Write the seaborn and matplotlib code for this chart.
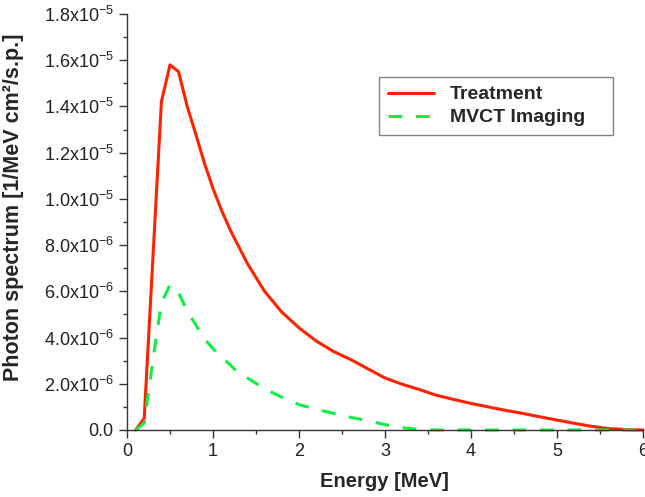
import numpy as np
import pandas as pd
import seaborn as sns
import matplotlib
matplotlib.use('Agg')
import matplotlib.pyplot as plt
from matplotlib.ticker import MultipleLocator, FuncFormatter

# Energías y espectros (unidades de 1e-6)
energia_trat = [0.1, 0.2, 0.4, 0.5, 0.6, 0.7, 0.8, 0.9, 1.0, 1.1, 1.2, 1.4, 1.6,
                1.8, 2.0, 2.2, 2.4, 2.6, 2.8, 3.0, 3.2, 3.4, 3.6, 3.8, 4.0, 4.2,
                4.4, 4.6, 4.8, 5.0, 5.2, 5.4, 5.6, 5.8, 6.0]
espectro_trat = [0.0, 0.5, 14.2, 15.8, 15.5, 14.0, 12.8, 11.55, 10.45, 9.5, 8.66,
                 7.2, 6.0, 5.1, 4.42, 3.85, 3.4, 3.05, 2.65, 2.25, 1.98, 1.75,
                 1.5, 1.32, 1.15, 1.0, 0.85, 0.72, 0.57, 0.43, 0.29, 0.16, 0.06,
                 0.02, 0.0]

energia_mvct = [0.1, 0.2, 0.3, 0.4, 0.5, 0.6, 0.7, 0.8, 0.9, 1.0, 1.1, 1.2, 1.3,
                1.4, 1.6, 1.8, 2.0, 2.2, 2.4, 2.6, 2.8, 3.0, 3.2, 3.4, 3.6, 3.8,
                4.0, 4.2, 4.4, 4.6, 4.8, 5.0, 5.2, 5.4, 5.6, 5.8, 6.0]
espectro_mvct = [0.0, 0.3, 3.0, 5.5, 6.28, 5.94, 5.15, 4.55, 3.95, 3.52, 3.15,
                 2.82, 2.45, 2.25, 1.78, 1.42, 1.1, 0.9, 0.72, 0.55, 0.4, 0.23,
                 0.1, 0.02, 0.0, 0.0, 0.0, 0.0, 0.0, 0.0, 0.0, 0.0, 0.0, 0.0,
                 0.0, 0.0, 0.0]

df_trat = pd.DataFrame({'Energia': energia_trat,
                        'Espectro': np.array(espectro_trat) * 1e-6})
df_mvct = pd.DataFrame({'Energia': energia_mvct,
                        'Espectro': np.array(espectro_mvct) * 1e-6})

sns.set_style('ticks')
plt.rcParams['font.family'] = ['Liberation Sans', 'DejaVu Sans']
plt.rcParams['mathtext.fontset'] = 'custom'
plt.rcParams['mathtext.rm'] = 'Liberation Sans'
plt.rcParams['mathtext.default'] = 'regular'

fig = plt.figure(figsize=(6.45, 4.97), dpi=100)
ax = fig.add_axes([127 / 645, 1 - 430 / 497, 516 / 645, 416 / 497])

sns.lineplot(x='Energia', y='Espectro', data=df_trat, ax=ax, color='#FF2200',
             linewidth=2.2, label='Treatment', clip_on=False)
sns.lineplot(x='Energia', y='Espectro', data=df_mvct, ax=ax, color='#11EE44',
             linewidth=2.2, linestyle=(0, (4.5, 4.5)), label='MVCT Imaging',
             clip_on=False)

ax.set_xlim(0, 6)
ax.set_ylim(0, 1.8e-5)
ax.xaxis.set_major_locator(MultipleLocator(1))
ax.xaxis.set_minor_locator(MultipleLocator(0.5))
ax.yaxis.set_major_locator(MultipleLocator(2e-6))
ax.yaxis.set_minor_locator(MultipleLocator(1e-6))


def formato_y(v, pos):
    if abs(v) < 1e-12:
        return '0.0'
    exp = int(np.floor(np.log10(abs(v)) + 1e-9))
    mant = v / 10 ** exp
    return f'{mant:.1f}x10$^{{{exp}}}$'


ax.yaxis.set_major_formatter(FuncFormatter(formato_y))

sns.despine(ax=ax)
for lado in ['left', 'bottom']:
    ax.spines[lado].set_color('#333333')
    ax.spines[lado].set_linewidth(1.0)
ax.tick_params(which='major', direction='out', length=6, width=1,
               color='#333333', labelsize=13, labelcolor='#222222')
ax.tick_params(which='minor', direction='out', length=3, width=1,
               color='#333333')

ax.set_xlabel('Energy [MeV]', fontsize=14.5, fontweight='bold')
ax.set_ylabel('Photon spectrum [1/MeV cm²/s.p.]', fontsize=15.5,
              fontweight='bold')
ax.xaxis.set_label_coords(0.498, -0.1)
ax.yaxis.set_label_coords(-0.2, 0.535)

leg = ax.legend(loc='upper left', mode='expand',
                bbox_to_anchor=(0.488, 0.7115, 0.4535, 0.137),
                borderaxespad=0, fancybox=False, frameon=True,
                prop={'weight': 'bold', 'size': 14}, handlelength=2.4,
                handletextpad=0.8, borderpad=0.45, labelspacing=0.28)
leg.get_frame().set_edgecolor('#666666')
leg.get_frame().set_linewidth(1.0)

fig.savefig('out.png', dpi=100)
